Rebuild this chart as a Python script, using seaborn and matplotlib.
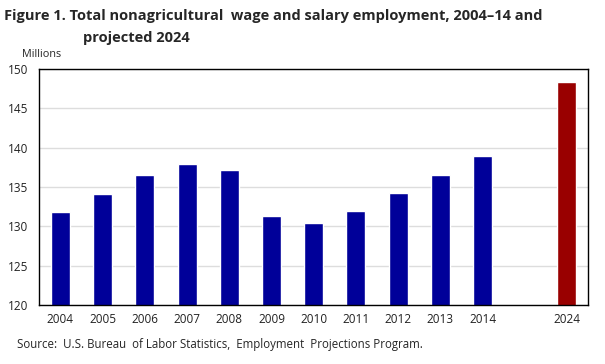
import matplotlib
matplotlib.use("Agg")
import matplotlib.pyplot as plt
import pandas as pd
import seaborn as sns

years = ["2004", "2005", "2006", "2007", "2008", "2009", "2010",
         "2011", "2012", "2013", "2014", "2024"]
employment = [131.8, 134.1, 136.5, 138.0, 137.2, 131.3, 130.4,
              131.9, 134.2, 136.5, 139.0, 148.4]
kind = ["actual"] * 11 + ["projected"]
# empty slot between 2014 and 2024
order = years[:11] + [" "] + years[11:]

df = pd.DataFrame({"year": years, "employment": employment, "kind": kind})

sns.set_style("white")
plt.rcParams["font.family"] = ["Open Sans", "DejaVu Sans"]

fig, ax = plt.subplots(figsize=(6.05, 3.64), dpi=100)
fig.subplots_adjust(left=0.065, right=0.972, top=0.81, bottom=0.162)

sns.barplot(data=df, x="year", y="employment", hue="kind", order=order,
            palette={"actual": "#000099", "projected": "#990000"},
            width=0.45, saturation=1, legend=False, ax=ax)

ax.set_ylim(120, 150)
ax.set_yticks(range(120, 151, 5))
ax.set_xlim(-0.5, len(order) - 0.5)
ax.set_xticks(range(len(order)))
ax.set_xticklabels(order)
ax.yaxis.grid(True, color="#dddddd", linewidth=1)
ax.set_axisbelow(True)
ax.set_xlabel("")
ax.set_ylabel("")
ax.tick_params(axis="both", length=0, labelsize=8.5, colors="#222222")
ax.tick_params(axis="x", pad=6)
ax.tick_params(axis="y", pad=8)
for s in ax.spines.values():
    s.set_visible(True)
    s.set_color("black")
    s.set_linewidth(1)

fig.text(0.007, 0.975, "Figure 1. Total nonagricultural  wage and salary employment, 2004\u201314 and",
         fontsize=10.5, fontweight="bold", va="top", ha="left")
fig.text(0.137, 0.915, "projected 2024",
         fontsize=10.5, fontweight="bold", va="top", ha="left")
fig.text(0.036, 0.835, "Millions", fontsize=7.8, va="bottom", ha="left")
fig.text(0.028, 0.035, "Source:  U.S. Bureau  of Labor Statistics,  Employment  Projections Program.",
         fontsize=8.3, va="bottom", ha="left")

fig.savefig("out.png", dpi=100)
